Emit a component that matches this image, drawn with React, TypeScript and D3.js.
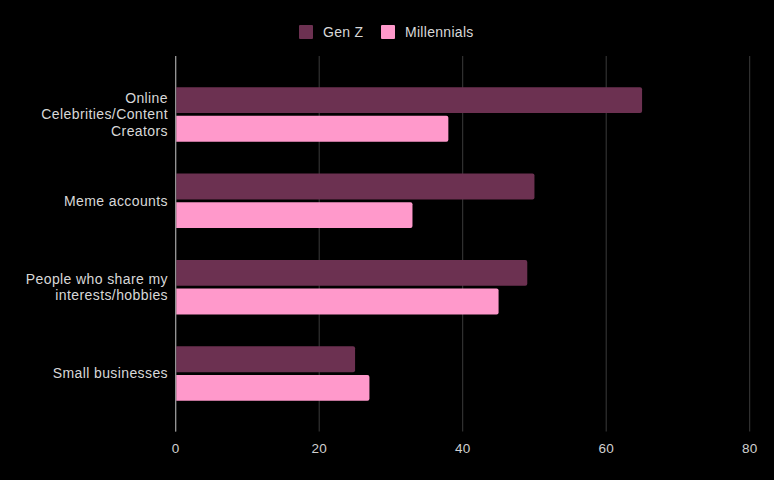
import React from "react";
import * as d3 from "d3";

const categories: string[][] = [
  ["Online", "Celebrities/Content", "Creators"],
  ["Meme accounts"],
  ["People who share my", "interests/hobbies"],
  ["Small businesses"],
];
const seriesNames = ["Gen Z", "Millennials"];
const genZ = [65, 50, 49, 25];
const millennials = [38, 33, 45, 27];
const xTicks = [0, 20, 40, 60, 80];
const colors = ["#6c3151", "#ff99cb"];

const W = 774;
const H = 480;
const FONT = "'Liberation Sans', Arial, sans-serif";

export default function App() {
  const x = d3.scaleLinear().domain([0, 80]).range([175.7, 749.7]);
  const y = d3
    .scaleBand<number>()
    .domain(d3.range(categories.length))
    .range([57, 431])
    .paddingInner(0.37)
    .paddingOuter(0.35);
  const inner = d3
    .scaleBand<number>()
    .domain([0, 1])
    .range([0, y.bandwidth()])
    .paddingInner(0.1);
  const series = [genZ, millennials];
  const top = 56;
  const bottom = 431.5;

  const barPath = (x0: number, x1: number, y0: number, h: number, r: number) => {
    const w = Math.max(0, x1 - x0);
    const rr = Math.min(r, w / 2, h / 2);
    return `M${x0},${y0}H${x0 + w - rr}Q${x0 + w},${y0} ${x0 + w},${y0 + rr}V${y0 + h - rr}Q${x0 + w},${y0 + h} ${x0 + w - rr},${y0 + h}H${x0}Z`;
  };

  return (
    <svg
      width={W}
      height={H}
      style={{ position: "absolute", left: 0, top: 0, background: "#000" }}
      fontFamily={FONT}
    >
      <rect x={0} y={0} width={W} height={H} fill="#000" />
      {xTicks.map((t) => (
        <line
          key={t}
          x1={x(t)}
          x2={x(t)}
          y1={top}
          y2={bottom}
          stroke={t === 0 ? "#9a9a9a" : "#3a3a3a"}
          strokeWidth={1}
        />
      ))}
      {series.map((vals, si) =>
        vals.map((v, ci) => (
          <path
            key={`${si}-${ci}`}
            d={barPath(x(0) + 0.5, x(v), (y(ci) as number) + (inner(si) as number), inner.bandwidth(), 2)}
            fill={colors[si]}
          />
        ))
      )}
      <line x1={x(0)} x2={x(0)} y1={top} y2={bottom} stroke="#9a9a9a" strokeWidth={1} />
      {xTicks.map((t) => (
        <text
          key={t}
          x={x(t)}
          y={453}
          textAnchor="middle"
          fontSize={13.5}
          letterSpacing={0.3}
          fill="#d0d0d0"
        >
          {t}
        </text>
      ))}
      {categories.map((lines, ci) => {
        const cy = (y(ci) as number) + y.bandwidth() / 2;
        const lh = 16.5;
        const start = cy - ((lines.length - 1) * lh) / 2;
        return (
          <text key={ci} textAnchor="end" fontSize={14} letterSpacing={0.4} fill="#d8d8d8">
            {lines.map((ln, li) => (
              <tspan key={li} x={168} y={start + li * lh} dy="0.35em">
                {ln}
              </tspan>
            ))}
          </text>
        );
      })}
      {seriesNames.map((name, i) => {
        const lx = [299, 381][i];
        return (
          <g key={name}>
            <rect x={lx} y={25} width={14} height={14} fill={colors[i]} rx={1} />
            <text x={lx + 24} y={32} dy="0.35em" fontSize={14} letterSpacing={0.3} fill="#d8d8d8">
              {name}
            </text>
          </g>
        );
      })}
    </svg>
  );
}
